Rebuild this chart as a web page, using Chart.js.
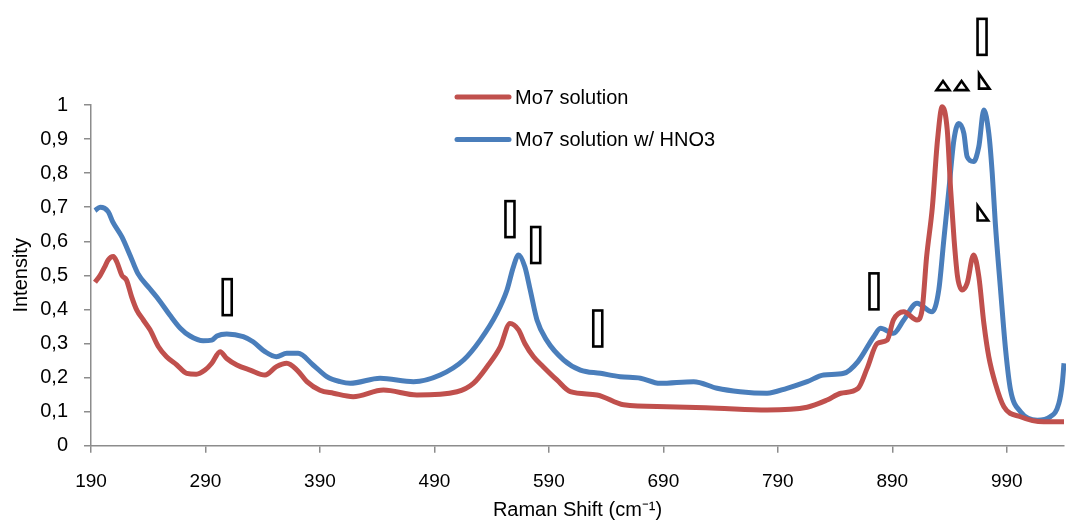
<!DOCTYPE html>
<html>
<head>
<meta charset="utf-8">
<script src="https://cdn.jsdelivr.net/npm/chart.js@4.4.1/dist/chart.umd.min.js"></script>
<style>
  html, body { margin: 0; padding: 0; background: #ffffff; }
  #wrap { width: 1066px; height: 523px; position: relative; }
</style>
</head>
<body>
<div id="wrap"><canvas id="c" width="1066" height="523"></canvas></div>
<script>
// ---- Data ----
const seriesNames = ["Mo7 solution", "Mo7 solution w/ HNO3"];

const redShift = [193.5,198,202,205,209.5,212.5,217,221,225.5,230,235.7,241.6,248.8,256,265,273.6,282,289.6,295.5,302.8,308.6,317.4,329,342,352,361,370,378.6,390,401.8,419,445.5,474.7,509.7,524,536,547.5,556,563.5,569,576.6,585,597,608.7,632,655.3,693,737,780.6,815.6,833,845,860,868,876.8,885.5,891,900,911.6,916,920,925,929.5,933.6,938,941,944,947,951,955.4,961,965.6,970,974.3,980,987.5,1002,1022.3,1040];
const redIntensity = [0.48,0.50,0.525,0.545,0.555,0.54,0.50,0.486,0.437,0.398,0.369,0.34,0.291,0.261,0.237,0.2125,0.21,0.222,0.242,0.276,0.256,0.237,0.222,0.2075,0.232,0.242,0.222,0.188,0.163,0.154,0.144,0.1635,0.149,0.1585,0.183,0.232,0.29,0.359,0.34,0.30,0.261,0.232,0.193,0.1585,0.149,0.12,0.1145,0.11,0.105,0.113,0.134,0.154,0.168,0.227,0.30,0.31,0.369,0.393,0.369,0.398,0.555,0.70,0.897,0.995,0.927,0.75,0.604,0.496,0.457,0.477,0.56,0.496,0.359,0.261,0.183,0.1145,0.085,0.07,0.07];

const blueShift = [193.5,198,205,209,217,224,231,241.6,250,259,268,276.5,288,295.5,300,308.6,323,331.6,342,352,361,371,384,396,407.6,416.4,442.6,471.7,495,515.5,530,544.6,553.4,559,563.5,569,573.7,579.6,588,603,617.5,635,652.4,670,687,716.5,737,757,780.6,798,815.6,830,847.6,860,873.8,879.7,891,900,911.6,924.8,930.6,935,939.4,943.8,948,952.5,955.4,961,965.6,970,974.3,977.3,980,984.6,989,993.3,1002,1016.7,1028,1035.5,1038.5,1040];
const blueIntensity = [0.69,0.70,0.687,0.657,0.613,0.56,0.505,0.46,0.425,0.383,0.345,0.322,0.308,0.31,0.322,0.328,0.32,0.305,0.276,0.261,0.271,0.271,0.237,0.203,0.188,0.183,0.198,0.188,0.2075,0.2515,0.31,0.389,0.457,0.525,0.56,0.525,0.457,0.369,0.31,0.2515,0.222,0.2125,0.2025,0.198,0.183,0.188,0.1685,0.1585,0.154,0.1685,0.188,0.2075,0.2125,0.247,0.32,0.3445,0.33,0.369,0.418,0.393,0.457,0.604,0.75,0.897,0.946,0.917,0.848,0.834,0.878,0.985,0.917,0.80,0.653,0.457,0.281,0.1635,0.10,0.075,0.085,0.124,0.183,0.242];

const xTickValues = [190,290,390,490,590,690,790,890,990];
const yTickValues = [0,0.1,0.2,0.3,0.4,0.5,0.6,0.7,0.8,0.9,1];

// band markers (shown as boxes/triangles in the reference), in data units
const boxMarks = [[309,0.436],[556,0.665],[578.5,0.589],[632.7,0.344],[874,0.453],[968.4,1.2]];
const upTriMarks = [[934.3,1.057],[950.5,1.057]];
const rightTriMarks = [[970.1,1.07],[968.9,0.683]];

// ---- Chart ----
const RED = "#C0504D", BLUE = "#4A7EBB";
const FONT = "'Liberation Sans', Arial, sans-serif";
const AXIS = "#8c8c8c";

function toPts(xs, ys) { return xs.map((x, i) => ({ x: x, y: ys[i] })); }

const markersPlugin = {
  id: "markers",
  afterDatasetsDraw(chart) {
    const ctx = chart.ctx, xs = chart.scales.x, ys = chart.scales.y;
    ctx.save();
    ctx.strokeStyle = "#000";
    ctx.lineWidth = 2.6;
    ctx.lineJoin = "miter";
    boxMarks.forEach(([x, y]) => {
      const px = xs.getPixelForValue(x), py = ys.getPixelForValue(y);
      ctx.strokeRect(px - 4.5, py - 18, 9, 36);
    });
    upTriMarks.forEach(([x, y]) => {
      const px = xs.getPixelForValue(x), py = ys.getPixelForValue(y);
      ctx.beginPath();
      ctx.moveTo(px - 6.5, py + 4.5);
      ctx.lineTo(px + 6.5, py + 4.5);
      ctx.lineTo(px, py - 4.5);
      ctx.closePath();
      ctx.stroke();
    });
    rightTriMarks.forEach(([x, y]) => {
      const px = xs.getPixelForValue(x), py = ys.getPixelForValue(y);
      ctx.beginPath();
      ctx.moveTo(px - 5, py - 7.5);
      ctx.lineTo(px - 5, py + 7.5);
      ctx.lineTo(px + 5.5, py + 7.5);
      ctx.closePath();
      ctx.stroke();
    });
    ctx.restore();
  }
};

const legendPlugin = {
  id: "customLegend",
  afterDraw(chart) {
    const ctx = chart.ctx;
    ctx.save();
    ctx.font = "20px " + FONT;
    ctx.textBaseline = "middle";
    ctx.fillStyle = "#000";
    chart.data.datasets.forEach((ds, i) => {
      const y = 97 + i * 42.5;
      ctx.strokeStyle = ds.borderColor;
      ctx.lineWidth = 5;
      ctx.lineCap = "round";
      ctx.beginPath();
      ctx.moveTo(457, y);
      ctx.lineTo(509, y);
      ctx.stroke();
      ctx.fillText(ds.label, 515, y + 1);
    });
    ctx.restore();
  }
};

new Chart(document.getElementById("c"), {
  type: "line",
  data: {
    datasets: [
      { label: seriesNames[0], data: toPts(redShift, redIntensity), borderColor: RED, backgroundColor: RED,
        borderWidth: 5, pointRadius: 0, cubicInterpolationMode: "monotone", clip: false },
      { label: seriesNames[1], data: toPts(blueShift, blueIntensity), borderColor: BLUE, backgroundColor: BLUE,
        borderWidth: 5, pointRadius: 0, cubicInterpolationMode: "monotone", clip: false }
    ]
  },
  options: {
    responsive: false,
    animation: false,
    devicePixelRatio: 1,
    layout: { padding: { left: 0, top: 105, right: 2, bottom: 0 } },
    plugins: { legend: { display: false }, tooltip: { enabled: false } },
    scales: {
      x: {
        type: "linear", min: 190, max: 1040,
        afterBuildTicks(scale) { scale.ticks = xTickValues.map(v => ({ value: v })); },
        afterFit(scale) { scale.height = 77.3; },
        grid: { display: true, drawOnChartArea: false, drawTicks: true, tickLength: 7, color: AXIS, lineWidth: 1.5 },
        border: { display: true, color: AXIS, width: 1.5 },
        ticks: { color: "#000", font: { family: FONT, size: 19 }, padding: 18, maxRotation: 0, autoSkip: false,
                 callback: v => String(v) },
        title: { display: true, text: "Raman Shift (cm\u207B\u00B9)", color: "#000",
                 font: { family: FONT, size: 20 }, padding: { top: 0, bottom: 1 } }
      },
      y: {
        type: "linear", min: 0, max: 1,
        afterBuildTicks(scale) { scale.ticks = yTickValues.map(v => ({ value: v })); },
        afterFit(scale) { scale.width = 91; },
        grid: { display: true, drawOnChartArea: false, drawTicks: true, tickLength: 7, color: AXIS, lineWidth: 1.5 },
        border: { display: true, color: AXIS, width: 1.5 },
        ticks: { color: "#000", font: { family: FONT, size: 20 }, padding: 16,
                 callback: v => (v === 0 || v === 1) ? String(v) : v.toFixed(1).replace(".", ",") },
        title: { display: true, text: "Intensity", color: "#000",
                 font: { family: FONT, size: 20 }, padding: { top: 9, bottom: 0 } }
      }
    }
  },
  plugins: [markersPlugin, legendPlugin]
});
</script>
</body>
</html>
